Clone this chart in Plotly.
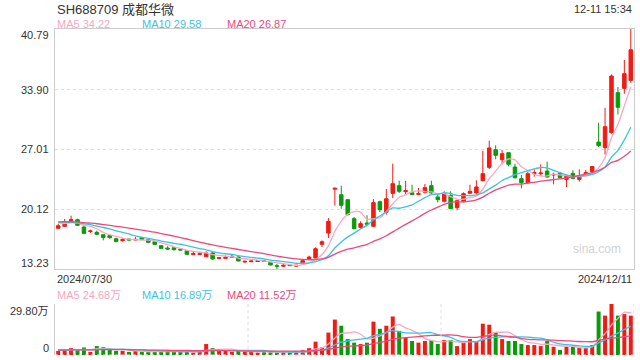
import plotly.graph_objects as go
import pandas as pd

# ---------------- data ----------------
title = "SH688709 成都华微"
stamp = "12-11 15:34"
date_labels = ["2024/07/30", "2024/12/11"]
price_ticks = [13.23, 20.12, 27.01, 33.90, 40.79]
vol_max_label = "29.80万"
vol_max = 29.80

opens = [17.90, 18.13, 18.78, 18.89, 18.05, 17.55, 17.44, 17.17, 17.06, 16.71,
         16.48, 16.67, 16.56, 16.86, 16.60, 16.37, 15.91, 15.64, 15.68, 15.49,
         15.33, 14.87, 14.89, 14.64, 15.07, 14.45, 14.45, 14.57, 14.61, 14.03,
         14.07, 14.09, 14.15, 13.99, 13.61, 13.55, 13.69, 13.55, 13.84, 14.37,
         14.49, 16.06, 17.36, 22.40, 21.76, 21.19, 19.01, 18.01, 18.51, 18.13,
         20.96, 19.74, 21.92, 22.80, 22.11, 22.00, 21.80, 22.03, 22.80, 21.50,
         21.00, 21.69, 20.27, 21.00, 21.92, 21.96, 23.37, 24.90, 26.93, 25.78,
         26.59, 24.94, 23.60, 23.14, 24.17, 24.17, 24.48, 24.02, 24.21, 23.52,
         24.21, 23.52, 24.17, 24.40, 27.81, 27.16, 28.88, 33.48, 33.97, 34.89]
highs = [18.43, 18.97, 19.35, 19.00, 18.28, 17.75, 17.63, 17.20, 17.17, 16.83,
         16.79, 16.72, 16.90, 16.90, 16.65, 16.42, 15.95, 15.83, 15.79, 15.52,
         15.36, 15.22, 15.20, 15.26, 15.26, 14.60, 14.80, 14.87, 14.65, 14.19,
         14.20, 14.25, 14.22, 14.02, 13.80, 13.80, 13.75, 13.70, 14.25, 14.76,
         15.72, 16.52, 19.08, 22.55, 22.80, 21.22, 19.20, 18.70, 19.40, 21.25,
         21.08, 22.42, 25.33, 23.37, 23.34, 22.91, 22.53, 22.99, 23.37, 21.77,
         22.15, 22.15, 21.19, 22.03, 22.91, 23.41, 26.82, 27.97, 27.43, 26.89,
         26.59, 25.32, 24.02, 24.40, 24.67, 25.25, 25.55, 24.29, 24.40, 24.06,
         24.56, 24.67, 24.60, 25.06, 30.03, 31.75, 35.58, 34.13, 37.23, 40.79]
lows = [17.86, 18.10, 18.76, 18.20, 17.30, 17.37, 17.13, 16.52, 16.71, 16.29,
        16.37, 16.52, 16.52, 16.55, 16.25, 15.98, 15.55, 15.45, 15.33, 15.38,
        14.88, 14.85, 14.86, 14.61, 14.30, 14.43, 14.43, 14.55, 14.12, 13.95,
        14.05, 14.05, 14.08, 13.65, 13.23, 13.46, 13.58, 13.50, 13.80, 14.33,
        14.45, 15.75, 16.79, 20.50, 20.15, 19.39, 17.78, 17.86, 18.20, 18.05,
        19.77, 19.47, 21.38, 21.96, 21.80, 21.77, 21.73, 21.88, 21.88, 20.88,
        20.88, 20.16, 19.97, 20.88, 21.84, 21.88, 23.30, 24.71, 25.82, 25.25,
        25.02, 23.64, 22.49, 23.06, 23.83, 23.91, 23.71, 22.95, 23.64, 22.64,
        23.52, 23.25, 24.10, 24.02, 27.24, 26.39, 28.77, 30.98, 33.36, 34.62]
closes = [18.20, 18.52, 18.89, 18.24, 17.32, 17.60, 17.21, 16.86, 16.83, 16.40,
          16.60, 16.56, 16.63, 16.60, 16.29, 16.06, 15.60, 15.52, 15.45, 15.41,
          14.91, 14.99, 15.00, 15.07, 14.38, 14.53, 14.57, 14.68, 14.15, 14.11,
          14.15, 14.19, 14.13, 13.69, 13.55, 13.65, 13.62, 13.65, 14.19, 14.60,
          15.56, 16.36, 18.70, 22.50, 20.54, 19.47, 17.86, 18.44, 18.38, 20.85,
          20.04, 21.30, 23.03, 22.15, 22.23, 21.77, 21.88, 22.57, 21.96, 21.19,
          21.88, 20.16, 21.08, 21.88, 22.15, 22.65, 24.18, 27.13, 26.28, 26.47,
          25.25, 23.71, 23.14, 24.17, 24.29, 24.25, 23.79, 24.10, 23.71, 23.91,
          23.64, 23.87, 24.29, 25.00, 27.40, 29.57, 35.39, 31.80, 35.66, 38.40]
# volume in 万 (10k shares)
volumes = [2.4, 2.4, 4.0, 3.0, 4.4, 1.8, 5.2, 4.6, 3.0, 2.4,
           2.4, 1.8, 2.4, 1.8, 1.8, 2.0, 2.0, 2.0, 2.4, 1.8,
           2.0, 1.4, 2.0, 6.4, 4.0, 2.4, 2.4, 1.8, 2.4, 1.8,
           1.8, 1.4, 1.8, 2.0, 1.4, 1.8, 1.4, 1.6, 2.8, 4.0,
           7.8, 4.4, 13.1, 20.7, 17.1, 9.3, 7.2, 6.4, 7.2, 19.5,
           15.3, 17.1, 22.5, 14.1, 10.3, 8.2, 7.2, 8.2, 8.8, 6.5,
           8.8, 8.8, 5.2, 7.2, 9.3, 7.8, 18.3, 17.7, 13.3, 9.3,
           8.2, 8.2, 6.4, 5.8, 5.8, 5.2, 8.2, 4.8, 3.0, 4.8,
           4.8, 4.2, 4.2, 5.8, 25.4, 23.0, 29.8, 23.0, 23.9, 23.0]
# sessions before the window (only used to warm up the moving averages)
prior_closes = [18.3, 18.6, 18.9, 19.1, 18.8, 18.5, 18.7, 18.9, 18.6, 18.4,
                18.8, 19.0, 18.7, 18.5, 18.6, 18.9, 18.4, 18.5, 18.6]
prior_volumes = [2.8, 3.1, 2.6, 3.4, 2.9, 3.2, 2.7, 3.0, 3.3, 2.8,
                 2.6, 3.1, 2.9, 3.5, 2.7, 3.0, 2.8, 3.2, 2.9]
ma_shown = {"MA5": "34.22", "MA10": "29.58", "MA20": "26.87"}
vma_shown = {"MA5": "24.68万", "MA10": "16.89万", "MA20": "11.52万"}

# ---------------- styling ----------------
W, H = 640, 360
UP, DOWN = "#f21b13", "#0a9b0a"
MA_COLORS = {"MA5": "#f8a7c2", "MA10": "#3cc3e0", "MA20": "#ec4a7d"}
FONT = "Liberation Sans, Arial, Noto Sans CJK SC, sans-serif"
TXT = "#333333"
BORDER = "#cccccc"
GRID = "#dddddd"

n = len(closes)
idx = list(range(n))
npri = len(prior_closes)


def ma_series(prior, vals, k):
    s = pd.Series(list(prior) + list(vals)).rolling(k).mean()
    return s.iloc[npri:].tolist()


x0p, x1p = 55, 634
main_top, main_bot = 29, 269
vol_top, vol_bot = 304, 355


def py(px):
    return 1 - px / H


fig = go.Figure()

fig.add_trace(go.Candlestick(
    x=idx, open=opens, high=highs, low=lows, close=closes,
    increasing=dict(line=dict(color=UP, width=1), fillcolor=UP),
    decreasing=dict(line=dict(color=DOWN, width=1), fillcolor=DOWN),
    whiskerwidth=0, xaxis="x", yaxis="y", hoverinfo="skip", showlegend=False))

for k in (5, 10, 20):
    fig.add_trace(go.Scatter(
        x=idx, y=ma_series(prior_closes, closes, k), mode="lines",
        line=dict(color=MA_COLORS[f"MA{k}"], width=1.3, shape="spline", smoothing=0.6),
        xaxis="x", yaxis="y", hoverinfo="skip", showlegend=False))

vol_colors = [UP if c >= o else DOWN for o, c in zip(opens, closes)]
fig.add_trace(go.Bar(
    x=idx, y=volumes, marker=dict(color=vol_colors, line=dict(width=0)),
    width=0.62, xaxis="x2", yaxis="y2", hoverinfo="skip", showlegend=False))

for k in (5, 10, 20):
    fig.add_trace(go.Scatter(
        x=idx, y=ma_series(prior_volumes, volumes, k), mode="lines",
        line=dict(color=MA_COLORS[f"MA{k}"], width=1.3, shape="spline", smoothing=0.6),
        xaxis="x2", yaxis="y2", hoverinfo="skip", showlegend=False))

dom_x = [x0p / W, x1p / W]
fig.update_layout(
    width=W, height=H, margin=dict(l=0, r=0, t=0, b=0),
    paper_bgcolor="white", plot_bgcolor="white",
    font=dict(family=FONT, color=TXT, size=11),
    boxgap=0.22,
    xaxis=dict(domain=dom_x, range=[-0.5, n - 0.5], showticklabels=False,
               showgrid=False, zeroline=False, showline=True, mirror=True,
               linecolor=BORDER, linewidth=1, rangeslider=dict(visible=False),
               fixedrange=True),
    yaxis=dict(domain=[py(main_bot), py(main_top)],
               range=[price_ticks[0], price_ticks[-1]],
               tickvals=price_ticks[1:-1], showticklabels=False,
               showgrid=True, gridcolor=GRID, griddash="dot", gridwidth=1,
               zeroline=False, showline=True, mirror=True, linecolor=BORDER,
               linewidth=1, fixedrange=True),
    xaxis2=dict(domain=dom_x, anchor="y2", range=[-0.5, n - 0.5],
                showticklabels=False, showgrid=False, zeroline=False,
                showline=False, fixedrange=True),
    yaxis2=dict(domain=[py(vol_bot), py(vol_top)], anchor="x2",
                range=[0, vol_max], tickvals=[vol_max], showticklabels=False,
                showgrid=True, gridcolor=GRID, griddash="dot", gridwidth=1,
                zeroline=False, showline=True, linecolor=BORDER, linewidth=1,
                fixedrange=True),
)

shapes = []
dot = dict(color=GRID, width=1, dash="dot")
# volume panel: right and bottom dotted edges, vertical dotted lines at thirds
shapes.append(dict(type="line", xref="x2", yref="y2", x0=n - 0.5, x1=n - 0.5,
                   y0=0, y1=vol_max, line=dot))
shapes.append(dict(type="line", xref="x2", yref="y2", x0=-0.5, x1=n - 0.5,
                   y0=0, y1=0, line=dot))
for t in (1, 2):
    xv = -0.5 + n * t / 3
    shapes.append(dict(type="line", xref="x2", yref="y2", x0=xv, x1=xv,
                       y0=0, y1=vol_max, line=dot))
fig.update_layout(shapes=shapes)

ann = []


def text(x, y, s, size=11, color=TXT, xanchor="left"):
    ann.append(dict(xref="paper", yref="paper", x=x / W, y=py(y), text=s,
                    showarrow=False, xanchor=xanchor, yanchor="middle",
                    font=dict(size=size, color=color, family=FONT)))


text(55, 9, title, size=13)
text(634, 9, stamp, size=11, xanchor="right")
for (name, val), xx in zip(ma_shown.items(), (55, 140, 225)):
    text(xx, 24, f"{name} {val}", size=11, color=MA_COLORS[name])
for (name, val), xx in zip(vma_shown.items(), (55, 140, 225)):
    text(xx, 295, f"{name} {val}", size=11, color=MA_COLORS[name])

# price labels (top/bottom nudged inside the frame like the original)
label_y = {40.79: 35, 33.90: 90, 27.01: 149, 20.12: 209, 13.23: 263}
for v in price_ticks:
    text(51, label_y[v], f"{v:.2f}", size=11, xanchor="right")
text(51, 311, vol_max_label, size=11, xanchor="right")
text(51, 348, "0", size=11, xanchor="right")
text(55, 279, date_labels[0], size=11)
text(634, 279, date_labels[1], size=11, xanchor="right")
text(623, 249, "sina.com", size=12, color="#d2d2d2", xanchor="right")

fig.update_layout(annotations=ann)
fig.write_html(
    "out.html",
    config={"displayModeBar": False, "staticPlot": True},
    post_script="document.body.style.margin='0';document.body.style.padding='0';",
)
